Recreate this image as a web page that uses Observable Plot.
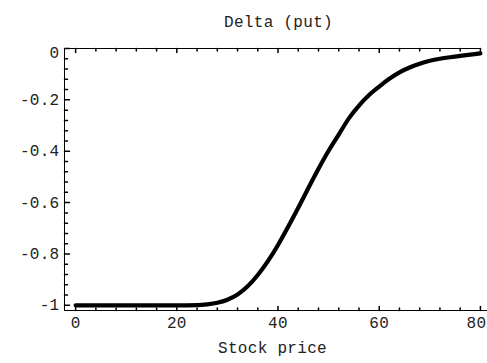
<!DOCTYPE html>
<html>
<head>
<meta charset="utf-8">
<script src="https://cdn.jsdelivr.net/npm/d3@7"></script>
<script src="https://cdn.jsdelivr.net/npm/@observablehq/plot@0.6"></script>
<style>
  body { margin: 0; background: #fff; }
  svg { display: block; }
</style>
</head>
<body>
<div id="chart"></div>
<script>
// Put option delta against the underlying stock price
const stockPrice = [0, 4, 8, 12, 16, 20, 24, 26, 28, 30, 32, 34, 36, 38, 40, 42, 44, 46, 48, 50,
                    52, 54, 56, 58, 60, 62, 64, 66, 68, 70, 72, 74, 76, 78, 80];
const putDelta = [-1, -1, -1, -1, -1, -1, -0.999, -0.996, -0.990, -0.978, -0.958, -0.926, -0.882, -0.828,
                  -0.765, -0.694, -0.620, -0.543, -0.468, -0.398, -0.335, -0.272, -0.222, -0.181, -0.148,
                  -0.118, -0.093, -0.074, -0.059, -0.048, -0.040, -0.034, -0.029, -0.024, -0.019];

const xTickValues = [0, 20, 40, 60, 80];
const xTickLabels = ["0", "20", "40", "60", "80"];
const yTickValues = [0, -0.2, -0.4, -0.6, -0.8, -1];
const yTickLabels = ["0", "-0.2", "-0.4", "-0.6", "-0.8", "-1"];
const titleText = "Delta (put)";
const xLabelText = "Stock price";

const xLo = -2.2, xHi = 81.4;
const yLo = -1.02, yHi = 0;

// minor tick positions
const xMinor = d3.range(0, 80.001, 4).filter(v => v % 20 !== 0);
const yMinor = d3.range(0, 25).map(i => -i * 0.04).filter(v => Math.abs(v * 5 - Math.round(v * 5)) > 1e-6);

// a plain straight tick stroke for the vector mark
const tickShape = {
  draw(context, length) {
    context.moveTo(0, 0);
    context.lineTo(0, -length);
  }
};

const font = "Liberation Mono, Courier New, monospace";
const textStyle = {fontFamily: font, fontSize: 16, fill: "#222"};

const chart = Plot.plot({
  width: 487,
  height: 363,
  marginTop: 48,
  marginBottom: 53,
  marginLeft: 64,
  marginRight: 0,
  style: {fontFamily: font, fontSize: "16px", letterSpacing: "0.3px", background: "#fff"},
  x: {domain: [xLo, xHi], axis: null},
  y: {domain: [yLo, yHi], axis: null},
  marks: [
    // frame lines: left, bottom, and the zero line on top
    Plot.ruleX([xLo], {y1: yLo, y2: yHi, stroke: "#000", strokeWidth: 1}),
    Plot.ruleY([yLo], {x1: xLo, x2: xHi, stroke: "#000", strokeWidth: 1}),
    Plot.ruleY([0], {x1: xLo, x2: 80, stroke: "#000", strokeWidth: 1}),

    // bottom ticks (pointing up)
    Plot.vector(xTickValues, {x: d => d, y: yLo, length: 4, rotate: 0, anchor: "start", shape: tickShape, stroke: "#000"}),
    Plot.vector(xMinor, {x: d => d, y: yLo, length: 2.5, rotate: 0, anchor: "start", shape: tickShape, stroke: "#000"}),
    // top ticks (pointing down)
    Plot.vector(xTickValues, {x: d => d, y: 0, length: 4, rotate: 180, anchor: "start", shape: tickShape, stroke: "#000"}),
    Plot.vector(xMinor, {x: d => d, y: 0, length: 2.5, rotate: 180, anchor: "start", shape: tickShape, stroke: "#000"}),
    // left ticks (pointing right)
    Plot.vector(yTickValues, {x: xLo, y: d => d, length: 5, rotate: 90, anchor: "start", shape: tickShape, stroke: "#000"}),
    Plot.vector(yMinor, {x: xLo, y: d => d, length: 3, rotate: 90, anchor: "start", shape: tickShape, stroke: "#000"}),

    // tick labels (the last one nudged left so it stays inside the edge)
    Plot.text(xTickValues.slice(0, -1), {x: d => d, y: yLo, text: (d, i) => xTickLabels[i], dy: 12, ...textStyle}),
    Plot.text(xTickValues.slice(-1), {x: d => d, y: yLo, text: () => xTickLabels[xTickLabels.length - 1], dy: 12, dx: -4, ...textStyle}),
    Plot.text(yTickValues.slice(0, 1), {x: xLo, y: d => d, text: () => yTickLabels[0], textAnchor: "end", dx: -5, dy: 4, ...textStyle}),
    Plot.text(yTickValues.slice(1), {x: xLo, y: d => d, text: (d, i) => yTickLabels[i + 1], textAnchor: "end", dx: -5, ...textStyle}),

    // title and axis label
    Plot.text([titleText], {frameAnchor: "top", dx: 2.5, dy: -33, ...textStyle}),
    Plot.text([xLabelText], {frameAnchor: "bottom", dx: -3.5, dy: 42, ...textStyle}),

    // the delta curve
    Plot.line(stockPrice, {x: stockPrice, y: putDelta, curve: "monotone-x", stroke: "#000", strokeWidth: 4.2, strokeLinecap: "round", strokeLinejoin: "round"})
  ]
});

document.getElementById("chart").appendChild(chart);
</script>
</body>
</html>
